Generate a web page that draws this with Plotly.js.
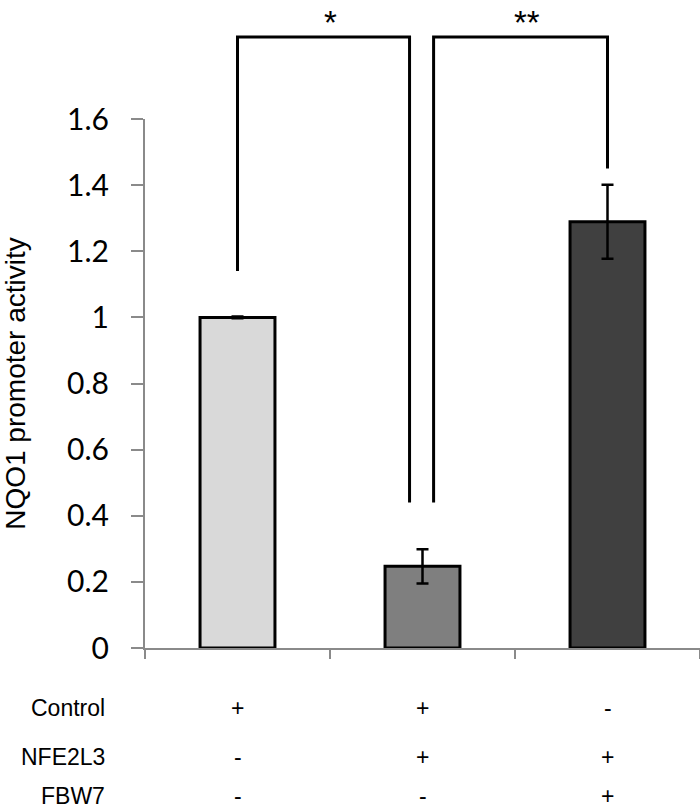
<!DOCTYPE html>
<html>
<head>
<meta charset="utf-8">
<script src="https://cdn.plot.ly/plotly-3.0.1.min.js"></script>
<style>html,body{margin:0;padding:0;background:#fff;}#chart{width:700px;height:810px;}</style>
</head>
<body>
<div id="chart"></div>
<script>
// Data
const groups = [0, 1, 2];
const activity = [1.0, 0.247, 1.289];
const errors = [0.003, 0.052, 0.112];
const barColors = ['#d9d9d9', '#7f7f7f', '#404040'];
const rowLabels = ['Control', 'NFE2L3', 'FBW7'];
const controlSigns = ['+', '+', '-'];
const nfe2l3Signs = ['-', '+', '+'];
const fbw7Signs = ['-', '-', '+'];
const yTicks = [0, 0.2, 0.4, 0.6, 0.8, 1, 1.2, 1.4, 1.6];
const yTickText = ['0', '0.2', '0.4', '0.6', '0.8', '1', '1.2', '1.4', '1.6'];
// significance brackets: [x0, x1, yLeftEnd, yRightEnd, label]
const brackets = [
  [0.0, 0.93, 1.14, 0.44, '*'],
  [1.06, 2.0, 0.44, 1.45, '**']
];
const bracketTop = 1.848;
const yMax = 1.6;

const trace = {
  type: 'bar',
  x: groups,
  y: activity,
  width: 0.405,
  marker: { color: barColors, line: { color: '#000', width: 3 } },
  error_y: { type: 'data', array: errors, visible: true, color: '#000', thickness: 2.5, width: 6 },
  hoverinfo: 'skip'
};

const shapes = [];
const annotations = [];
brackets.forEach(b => {
  const [x0, x1, yl, yr, lab] = b;
  const path = `M ${x0},${yl / yMax} L ${x0},${bracketTop / yMax} L ${x1},${bracketTop / yMax} L ${x1},${yr / yMax}`;
  shapes.push({ type: 'path', xref: 'x', yref: 'paper', path: path, line: { color: '#000', width: 3 } });
  annotations.push({ x: (x0 + x1) / 2 + 0.035, y: 1.222, xref: 'x', yref: 'paper', text: lab,
    showarrow: false, yanchor: 'top', font: { family: 'Liberation Sans, Arial', size: 33, color: '#000' } });
});

const signRows = [controlSigns, nfe2l3Signs, fbw7Signs];
const rowY = [-0.114, -0.206, -0.279];
const rowFont = { family: 'Liberation Sans, Arial', size: 23, color: '#000' };
rowLabels.forEach((lab, i) => {
  annotations.push({ x: (107 - 145) / 555, xref: 'paper', xanchor: 'right', y: rowY[i], yref: 'paper', yanchor: 'middle',
    text: lab, showarrow: false, font: rowFont });
  signRows[i].forEach((s, j) => {
    annotations.push({ x: groups[j], xref: 'x', y: rowY[i], yref: 'paper', yanchor: 'middle',
      text: s, showarrow: false, font: rowFont });
  });
});

const layout = {
  width: 700, height: 810,
  margin: { l: 145, r: 0, t: 119, b: 162 },
  paper_bgcolor: '#fff', plot_bgcolor: '#fff',
  showlegend: false,
  xaxis: {
    range: [-0.5, 2.5], showgrid: false, zeroline: false,
    showline: true, linecolor: '#8a8a8a', linewidth: 2,
    tickmode: 'array', tickvals: [-0.5, 0.5, 1.5, 2.5], ticktext: ['', '', '', ''],
    ticks: 'outside', ticklen: 9, tickwidth: 2, tickcolor: '#8a8a8a'
  },
  yaxis: {
    range: [0, yMax], showgrid: false, zeroline: false,
    showline: true, linecolor: '#8a8a8a', linewidth: 2,
    tickmode: 'array', tickvals: yTicks, ticktext: yTickText,
    ticks: 'outside', ticklen: 12, tickwidth: 2, tickcolor: '#8a8a8a',
    ticklabelstandoff: 16,
    tickfont: { family: 'Lato, Open Sans, sans-serif', size: 30, color: '#000' },
    title: { text: 'NQO1 promoter activity', standoff: 42,
      font: { family: 'Liberation Sans, Arial', size: 28, color: '#000' } }
  },
  shapes: shapes,
  annotations: annotations
};

Plotly.newPlot('chart', [trace], layout, { displayModeBar: false, staticPlot: true });
</script>
</body>
</html>
